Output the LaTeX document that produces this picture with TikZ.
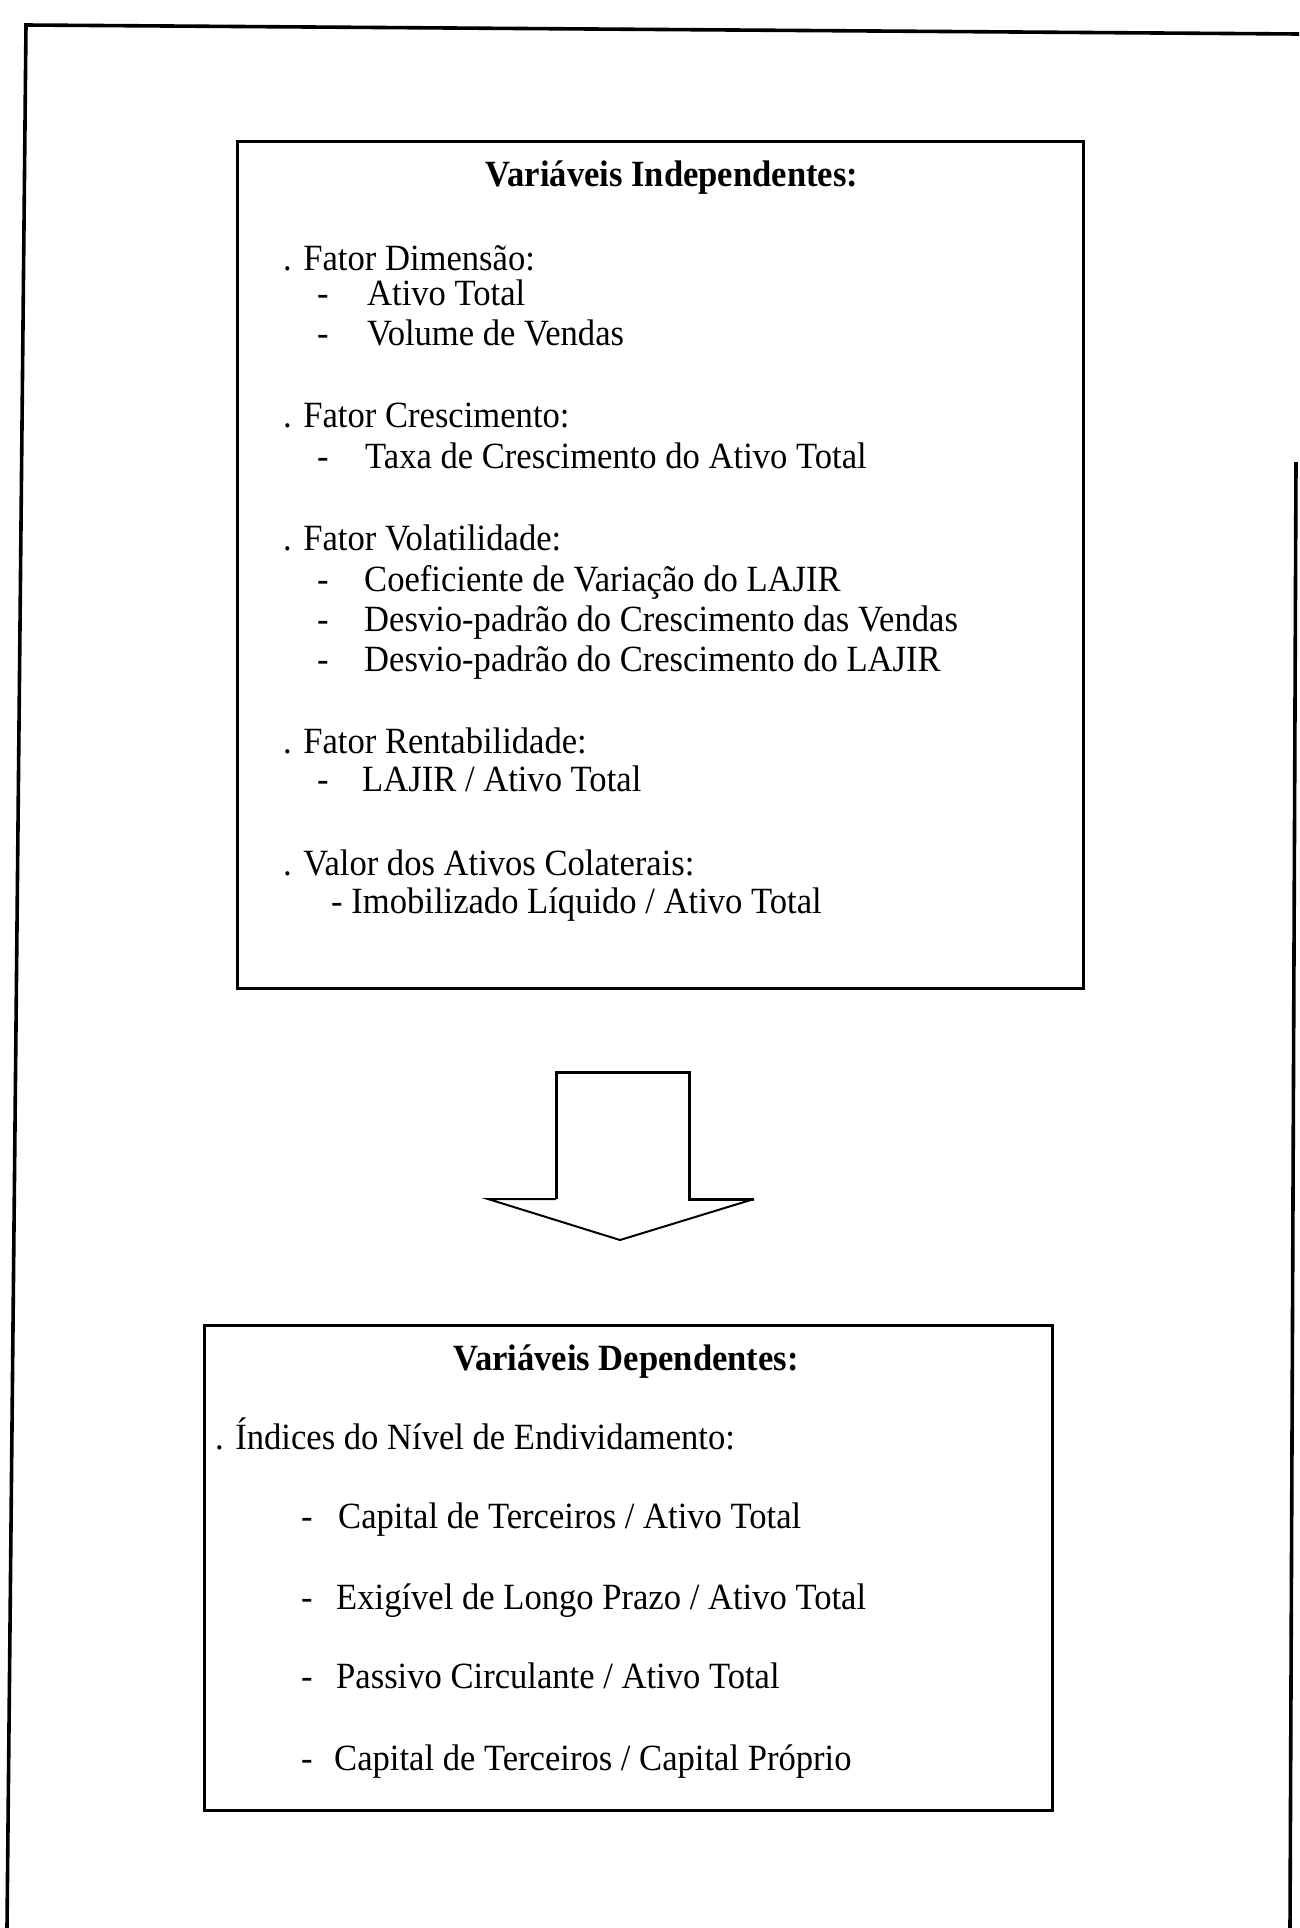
\documentclass[tikz,border=0pt]{standalone}
\usepackage{fontspec}
\setmainfont[FakeStretch=0.935]{Liberation Serif}
\begin{document}
\begin{tikzpicture}[x=1pt,y=-1pt,
  frameline/.style={line width=3.6pt},
  boxline/.style={draw,line width=3pt,rectangle,inner sep=0pt},
  txt/.style={anchor=base west,inner sep=0pt,font=\fontsize{37}{44}\selectfont},
  ttl/.style={anchor=base,inner sep=0pt,font=\fontsize{37}{44}\selectfont\bfseries}]
\useasboundingbox (0,0) rectangle (1299,1928);
% outer frame (scanned page border)
\coordinate (fbl) at (7,1928);
\coordinate (ftl) at (26,25);
\coordinate (ftr) at (1299,34);
\coordinate (frt) at (1296,462);
\coordinate (frb) at (1290,1928);
\draw[frameline] (fbl) -- (ftl) -- (ftr);
\draw[frameline] (frt) -- (frb);
% boxes
\node[boxline,minimum width=846pt,minimum height=847pt] (indep) at (660,564.5) {};
\node[boxline,minimum width=848pt,minimum height=485pt] (dep) at (628,1567.5) {};
% top box text
\node[ttl] (t1) at (672,186) {Variáveis Independentes:};
\node[txt] (f1) at (283,270) {. Fator Dimensão:};
\node[txt] (d1a) at (317,305) {-};
\node[txt] (i1a) at (367,305) {Ativo Total};
\node[txt] (d1b) at (317,345) {-};
\node[txt] (i1b) at (367,345) {Volume de Vendas};
\node[txt] (f2) at (283,427) {. Fator Crescimento:};
\node[txt] (d2a) at (317,468) {-};
\node[txt] (i2a) at (365,468) {Taxa de Crescimento do Ativo Total};
\node[txt] (f3) at (283,550) {. Fator Volatilidade:};
\node[txt] (d3a) at (317,591) {-};
\node[txt] (i3a) at (364,591) {Coeficiente de Variação do LAJIR};
\node[txt] (d3b) at (317,631) {-};
\node[txt] (i3b) at (364,631) {Desvio-padrão do Crescimento das Vendas};
\node[txt] (d3c) at (317,671) {-};
\node[txt] (i3c) at (364,671) {Desvio-padrão do Crescimento do LAJIR};
\node[txt] (f4) at (283,753) {. Fator Rentabilidade:};
\node[txt] (d4a) at (317,791) {-};
\node[txt] (i4a) at (362,791) {LAJIR / Ativo Total};
\node[txt] (f5) at (283,875) {. Valor dos Ativos Colaterais:};
\node[txt] (i5a) at (331,913) {- Imobilizado Líquido / Ativo Total};
% block arrow
\coordinate (a1) at (556,1199);
\coordinate (a2) at (556,1072);
\coordinate (a3) at (689,1072);
\coordinate (a4) at (689,1199);
\coordinate (a5) at (754,1199);
\coordinate (a6) at (620,1240);
\coordinate (a7) at (488,1199);
\draw[line width=3pt,line join=miter] (a1) -- (a2) -- (a3) -- (a4) -- (a5);
\draw[line width=2pt] (a5) -- (a6) -- (a7) -- (a1);
% bottom box text
\node[ttl] (t2) at (626,1370) {Variáveis Dependentes:};
\node[txt] (g1) at (215,1449) {. Índices do Nível de Endividamento:};
\node[txt] (e1) at (301,1528) {-};
\node[txt] (j1) at (338,1528) {Capital de Terceiros / Ativo Total};
\node[txt] (e2) at (301,1609) {-};
\node[txt] (j2) at (336,1609) {Exigível de Longo Prazo / Ativo Total};
\node[txt] (e3) at (301,1688) {-};
\node[txt] (j3) at (336,1688) {Passivo Circulante / Ativo Total};
\node[txt] (e4) at (301,1770) {-};
\node[txt] (j4) at (334,1770) {Capital de Terceiros / Capital Próprio};
\end{tikzpicture}
\end{document}
